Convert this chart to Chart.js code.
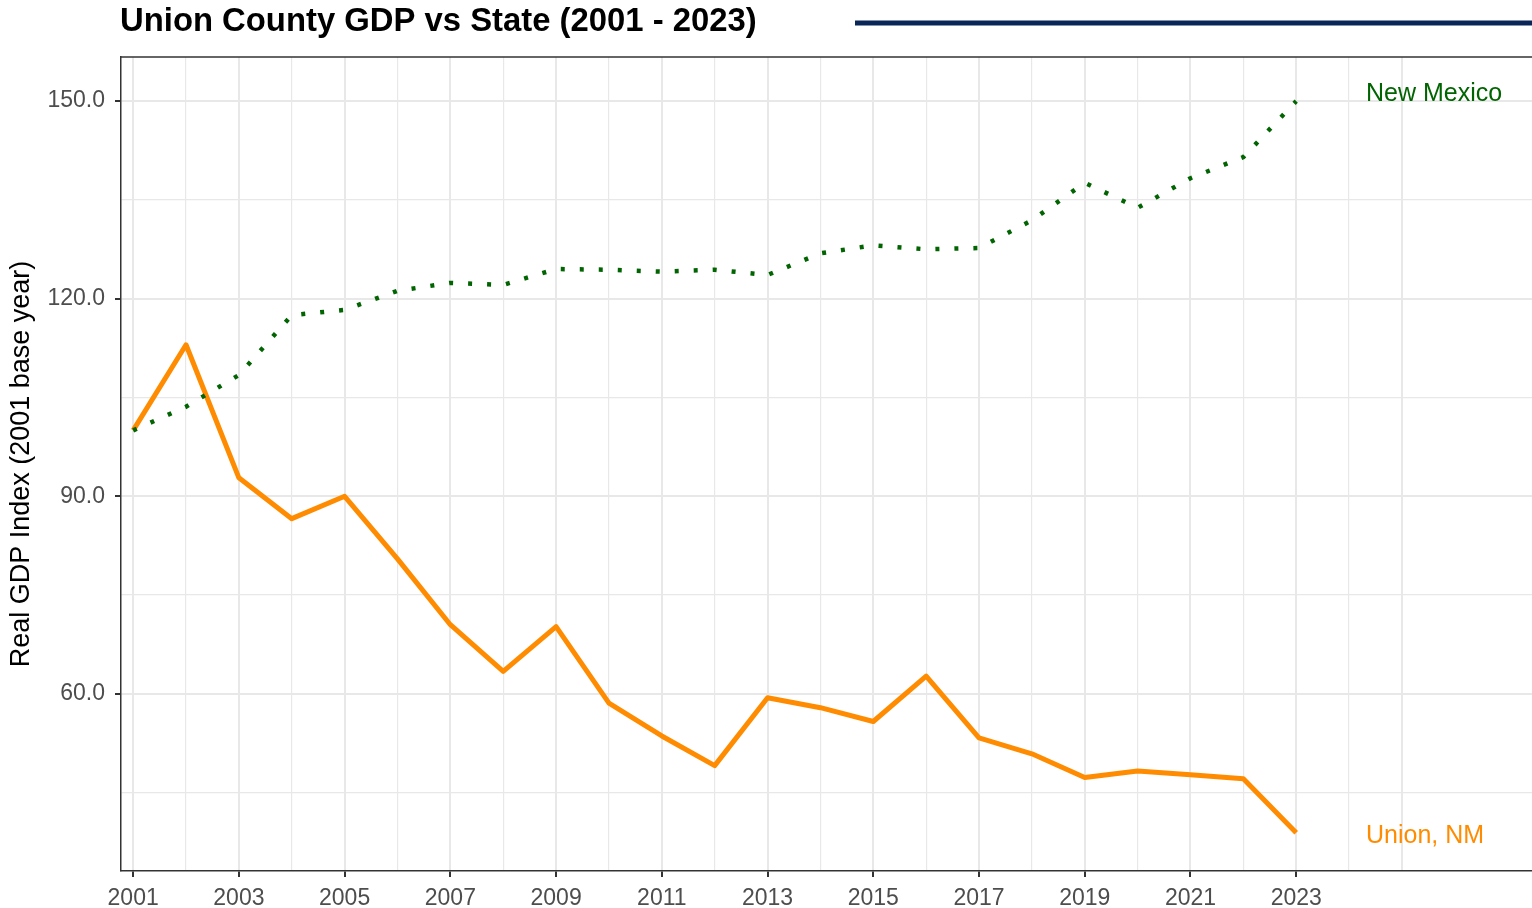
<!DOCTYPE html>
<html><head><meta charset="utf-8">
<script src="https://cdn.jsdelivr.net/npm/chart.js@4/dist/chart.umd.min.js"></script>
<style>html,body{margin:0;padding:0;background:#fff}#wrap{width:1532px;height:908px;position:relative}</style>
</head><body><div id="wrap"><canvas id="c"></canvas></div>
<script>
const chartTitle = 'Union County GDP vs State (2001 - 2023)';
const yAxisTitle = 'Real GDP Index (2001 base year)';
const years = [2001,2002,2003,2004,2005,2006,2007,2008,2009,2010,2011,2012,2013,2014,2015,2016,2017,2018,2019,2020,2021,2022,2023];
const unionNM = [100,113.0,92.8,86.6,90.0,80.5,70.5,63.4,70.2,58.6,53.6,49.1,59.4,57.9,55.8,62.7,53.3,50.9,47.3,48.3,47.7,47.1,38.9];
const newMexico = [100,103.6,108.4,117.5,118.3,121.2,122.4,122.1,124.5,124.4,124.1,124.4,123.6,126.9,128.1,127.5,127.7,131.9,137.6,133.8,138.3,141.5,150.0];
const xGridYears = [2001,2002,2003,2004,2005,2006,2007,2008,2009,2010,2011,2012,2013,2014,2015,2016,2017,2018,2019,2020,2021,2022,2023,2024,2025];
const xTickLabels = [2001,2003,2005,2007,2009,2011,2013,2015,2017,2019,2021,2023];
const yGridValues = [45,60,75,90,105,120,135,150];
const yTickLabels = [60,90,120,150];
const seriesNames = ['New Mexico','Union, NM'];

const FONT = '"Liberation Sans", Arial, Helvetica, sans-serif';

const overlay = {
  id: 'overlay',
  afterDraw(chart) {
    const ctx = chart.ctx, a = chart.chartArea;
    const xs = chart.scales.x, ys = chart.scales.y;
    ctx.save();
    ctx.strokeStyle = '#333333'; ctx.lineWidth = 1.5;
    ctx.beginPath(); ctx.moveTo(a.left, a.top); ctx.lineTo(a.right, a.top); ctx.stroke();
    let fs = 32;
    ctx.font = 'bold ' + fs + 'px ' + FONT;
    const w = ctx.measureText(chartTitle).width;
    fs = fs * 637 / w;
    ctx.font = 'bold ' + fs.toFixed(2) + 'px ' + FONT;
    ctx.fillStyle = '#000'; ctx.textBaseline = 'middle'; ctx.textAlign = 'left';
    ctx.fillText(chartTitle, 120, 22);
    ctx.strokeStyle = '#0a2558'; ctx.lineWidth = 5;
    ctx.beginPath(); ctx.moveTo(855, 23); ctx.lineTo(1532, 23); ctx.stroke();
    ctx.font = '25px ' + FONT;
    ctx.textBaseline = 'middle'; ctx.textAlign = 'left';
    const lx = xs.getPixelForValue(2024.32);
    ctx.fillStyle = '#006400';
    ctx.fillText(seriesNames[0], lx, ys.getPixelForValue(newMexico[newMexico.length-1]) - 7);
    ctx.fillStyle = '#FF8C00';
    ctx.fillText(seriesNames[1], lx, ys.getPixelForValue(unionNM[unionNM.length-1]) + 3);
    ctx.restore();
  }
};

new Chart(document.getElementById('c'), {
  type: 'line',
  data: {
    datasets: [
      { label: seriesNames[0], data: years.map((y,i)=>({x:y,y:newMexico[i]})), borderColor:'#006400', borderWidth:4.5, borderDash:[4,15], borderCapStyle:'butt', pointRadius:0, tension:0, fill:false },
      { label: seriesNames[1], data: years.map((y,i)=>({x:y,y:unionNM[i]})), borderColor:'#FF8C00', borderWidth:5, borderJoinStyle:'round', pointRadius:0, tension:0, fill:false }
    ]
  },
  options: {
    responsive: true, maintainAspectRatio: false, animation: false,
    layout: { padding: { top: 57, left: 0, right: 0, bottom: 0 } },
    plugins: { legend: { display: false }, tooltip: { enabled: false }, title: { display: false } },
    scales: {
      x: {
        type: 'linear', min: 2000.77, max: 2027.46,
        afterBuildTicks: s => { s.ticks = xGridYears.map(v => ({ value: v })); },
        afterFit: s => { s.height = 37; },
        ticks: { autoSkip: false, maxRotation: 0, padding: 8, color: '#4d4d4d', font: { family: FONT, size: 23 },
          callback: v => xTickLabels.includes(v) ? String(v) : '' },
        grid: { color: '#e8e8e8', lineWidth: c => (c.tick && c.tick.value % 2 === 1) ? 2 : 1.2,
          tickColor: c => (c.tick && xTickLabels.includes(c.tick.value)) ? '#333333' : 'rgba(0,0,0,0)', tickLength: 6, tickWidth: 2 },
        border: { display: true, color: '#333333', width: 1.5 }
      },
      y: {
        type: 'linear', min: 33.1, max: 156.7,
        afterBuildTicks: s => { s.ticks = yGridValues.map(v => ({ value: v })); },
        afterFit: s => { s.width = 121; },
        ticks: { autoSkip: false, padding: 10, color: '#4d4d4d', font: { family: FONT, size: 23 },
          callback: v => yTickLabels.includes(v) ? v.toFixed(1) : '' },
        grid: { color: '#e8e8e8', lineWidth: c => (c.tick && yTickLabels.includes(c.tick.value)) ? 2 : 1.2,
          tickColor: c => (c.tick && yTickLabels.includes(c.tick.value)) ? '#333333' : 'rgba(0,0,0,0)', tickLength: 6, tickWidth: 2 },
        border: { display: true, color: '#333333', width: 1.5 },
        title: { display: true, text: yAxisTitle, color: '#000', font: { family: FONT, size: 27 }, padding: { top: 5, bottom: 0 } }
      }
    }
  },
  plugins: [overlay]
});
</script>
</body></html>
